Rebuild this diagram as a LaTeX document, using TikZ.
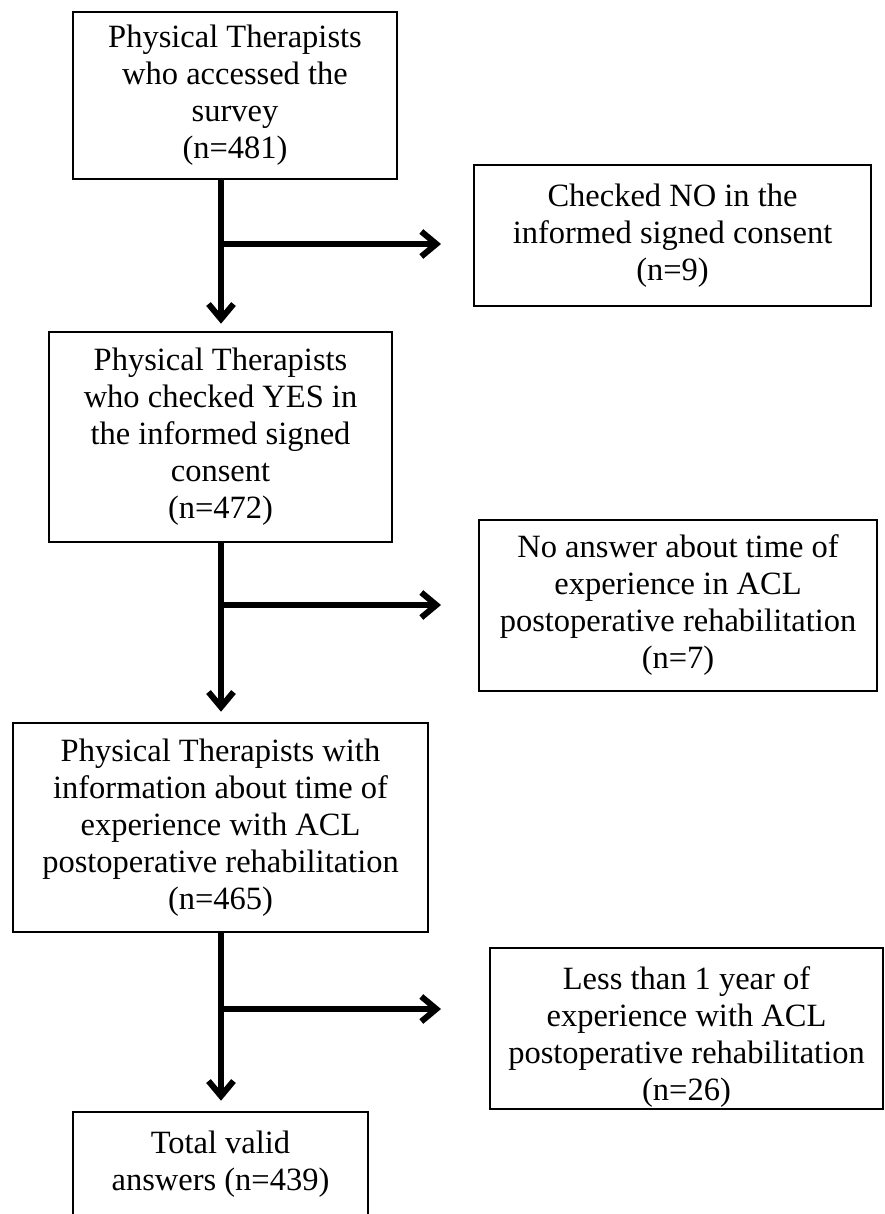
\documentclass[tikz,border=0pt]{standalone}
\usepackage{fontspec}
\setmainfont{Liberation Serif}
\usetikzlibrary{arrows.meta,calc}
\begin{document}
\begin{tikzpicture}[x=1pt,y=-1pt,
  box/.style={draw=black,line width=2.6pt,rectangle,inner sep=0pt,align=center,
    font=\fontsize{32.5}{37}\selectfont},
  txt/.style={inner sep=0pt,align=center,font=\fontsize{32.5}{37}\selectfont},
  arr/.style={line width=6pt,-{Straight Barb[length=15pt,width=25pt]}}]
\useasboundingbox (0,0) rectangle (885,1214);
\fill[white] (0,0) rectangle (885,1214);
\clip (0,0) rectangle (885,1214);
% boxes
\node[box,minimum width=324pt,minimum height=167pt] (b1) at (235,95.5)
  {Physical Therapists\\who accessed the\\survey\\(n=481)};
\node[box,minimum width=397pt,minimum height=141pt] (b2) at (672.5,235.5)
  {Checked NO in the\\informed signed consent\\(n=9)};
\node[box,minimum width=343pt,minimum height=210pt] (b3) at (220.5,437)
  {Physical Therapists\\who checked YES in\\the informed signed\\consent\\(n=472)};
\node[box,minimum width=398pt,minimum height=171pt] (b4) at (678,605.5)
  {No answer about time of\\experience in ACL\\postoperative rehabilitation\\(n=7)};
\node[box,minimum width=415pt,minimum height=209pt] (b5) at (220.5,827.5)
  {Physical Therapists with\\information about time of\\experience with ACL\\postoperative rehabilitation\\(n=465)};
\node[box,minimum width=393pt,minimum height=161pt] (b6) at (686.5,1028.5) {};
\node[txt] (b6t) at ([yshift=-9pt]b6.center)
  {Less than 1 year of\\experience with ACL\\postoperative rehabilitation\\(n=26)};
\node[box,minimum width=295pt,minimum height=105pt] (b7) at (220.5,1164.5)
  {Total valid\\answers (n=439)};
% junction points and arrow ends
\coordinate (j1) at (221,244);  \coordinate (e1) at (441,244);
\coordinate (j2) at (221,605);  \coordinate (e2) at (441,605);
\coordinate (j3) at (221,1009); \coordinate (e3) at (441,1009);
% connectors
\draw[arr,shorten >=7pt] (b1.south -| j1) -- (b3.north -| j1);
\draw[arr] (j1) -- (e1);
\draw[arr,shorten >=10pt] (b3.south -| j2) -- (b5.north -| j2);
\draw[arr] (j2) -- (e2);
\draw[arr,shorten >=10pt] (b5.south -| j3) -- (b7.north -| j3);
\draw[arr] (j3) -- (e3);
\end{tikzpicture}
\end{document}
